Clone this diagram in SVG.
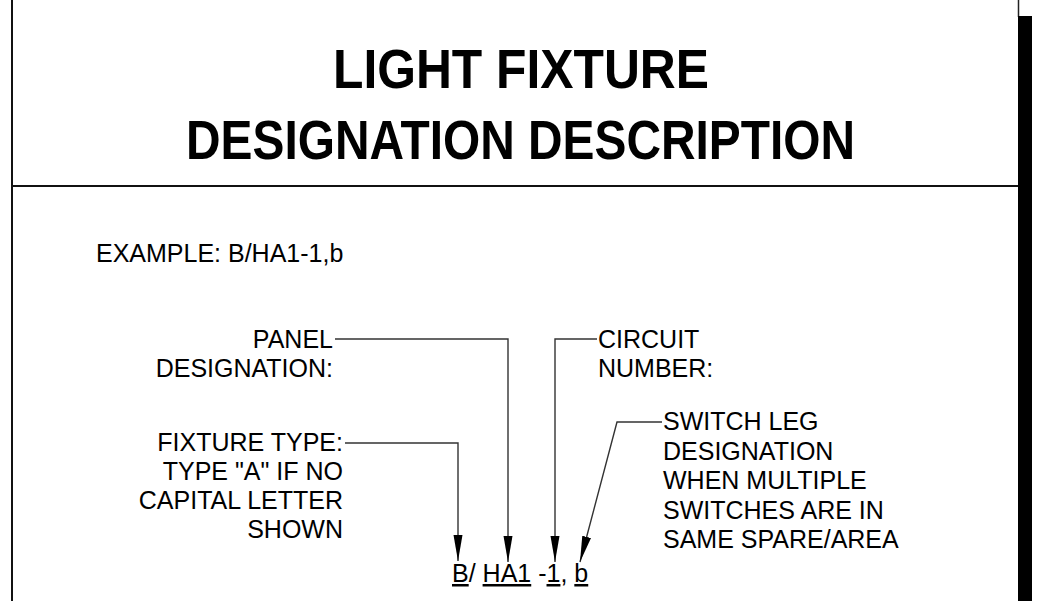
<svg xmlns="http://www.w3.org/2000/svg" width="1039" height="601" viewBox="0 0 1039 601">
<defs>
<style>
.t{font-family:"Liberation Sans",Arial,sans-serif;font-size:25px;fill:#000}
.title{font-family:"Liberation Sans",Arial,sans-serif;font-size:55px;font-weight:bold;fill:#000;text-anchor:middle}
.r{text-anchor:end}
.lead{fill:none;stroke:#333;stroke-width:1.4}
.frame{stroke:#111;stroke-width:2;fill:none}
.u{text-decoration:underline}
</style>
<marker id="ah" markerWidth="26" markerHeight="10" refX="26" refY="5" orient="auto" markerUnits="userSpaceOnUse">
<path d="M0,0.5 L26,5 L0,9.5 Z" fill="#000"/>
</marker>
</defs>
<rect width="1039" height="601" fill="#fff"/>
<g id="frame">
<line class="frame" x1="12" y1="0" x2="12" y2="601"/>
<line class="frame" x1="12" y1="186" x2="1018" y2="186"/>
<line x1="1018.5" y1="0" x2="1018.5" y2="17" stroke="#222" stroke-width="1.5"/>
<rect x="1018" y="16" width="14" height="585" fill="#000"/>
</g>
<g id="title">
<text class="title" x="521" y="88" textLength="376" lengthAdjust="spacingAndGlyphs">LIGHT FIXTURE</text>
<text class="title" x="520.5" y="159" textLength="669" lengthAdjust="spacingAndGlyphs">DESIGNATION DESCRIPTION</text>
</g>
<g id="example">
<text class="t" x="96" y="262">EXAMPLE: B/HA1-1,b</text>
</g>
<g id="panel">
<text class="t r" x="333" y="348">PANEL</text>
<text class="t r" x="333" y="377">DESIGNATION:</text>
</g>
<g id="circuit">
<text class="t" x="598" y="348">CIRCUIT</text>
<text class="t" x="598" y="377">NUMBER:</text>
</g>
<g id="fixture">
<text class="t r" x="343" y="451">FIXTURE TYPE:</text>
<text class="t r" x="343" y="480">TYPE "A" IF NO</text>
<text class="t r" x="343" y="509">CAPITAL LETTER</text>
<text class="t r" x="343" y="538">SHOWN</text>
</g>
<g id="switch">
<text class="t" x="663" y="430">SWITCH LEG</text>
<text class="t" x="663" y="459.5">DESIGNATION</text>
<text class="t" x="663" y="489">WHEN MULTIPLE</text>
<text class="t" x="663" y="518.5">SWITCHES ARE IN</text>
<text class="t" x="663" y="548">SAME SPARE/AREA</text>
</g>
<g id="designation">
<text class="t" x="452" y="582"><tspan class="u">B</tspan>/ <tspan class="u">HA1</tspan> -<tspan class="u">1</tspan>, <tspan class="u">b</tspan></text>
</g>
<g id="connectors">
<polyline class="lead" points="335,339 508,339 508,562" marker-end="url(#ah)"/>
<polyline class="lead" points="597,339 555,339 555,562" marker-end="url(#ah)"/>
<polyline class="lead" points="345,443 458,443 458,561" marker-end="url(#ah)"/>
<polyline class="lead" points="662,422 617,422 580,562" marker-end="url(#ah)"/>
</g>
</svg>
